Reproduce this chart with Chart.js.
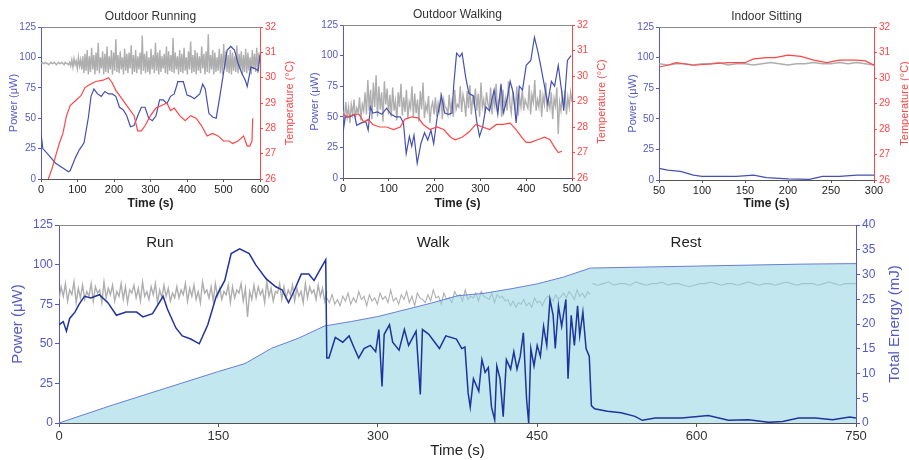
<!DOCTYPE html>
<html>
<head>
<meta charset="utf-8">
<script src="https://cdn.jsdelivr.net/npm/chart.js@4.4.1/dist/chart.umd.min.js"></script>
<style>
  body { margin: 0; background: #fff; width: 909px; height: 460px; overflow: hidden; position: relative; }
  canvas { position: absolute; }
</style>
</head>
<body>
<canvas id="run" width="300" height="215" style="left:0;top:0"></canvas>
<canvas id="walk" width="310" height="215" style="left:300px;top:0"></canvas>
<canvas id="sit" width="299" height="215" style="left:610px;top:0"></canvas>
<canvas id="all" width="909" height="245" style="left:0;top:215px"></canvas>
<script>
// ---- Outdoor Running ----
const runTimes = [0, 5, 20, 40, 60, 75, 80, 95, 105, 112,
  118, 130, 137, 145, 155, 165, 175, 185, 195, 205,
  215, 225, 235, 245, 255, 265, 275, 285, 295, 305,
  315, 325, 335, 345, 355, 365, 375, 390, 400, 410,
  420, 435, 443, 450, 460, 470, 480, 490, 500, 510,
  520, 530, 540, 550, 560, 565, 575, 585, 595, 600]
const runPower = [37.5, 25, 20, 13, 9, 6, 7, 18, 24, 27,
  30, 51, 68, 74, 70, 68, 72, 70, 70, 68,
  59, 57, 52, 43, 44, 52, 59, 59, 50, 48,
  52, 65, 65, 62, 68, 70, 80, 80, 69, 68,
  66, 70, 78, 74, 54, 51, 50, 68, 87, 106,
  109, 106, 95, 87, 81, 76, 92, 91, 89, 102]
const runTempTimes = [20, 30, 40, 50, 60, 70, 80, 95, 110, 120,
  130, 150, 170, 185, 195, 205, 220, 240, 255, 265,
  275, 285, 300, 315, 330, 345, 355, 365, 380, 395,
  410, 425, 440, 455, 470, 485, 500, 515, 525, 540,
  555, 565, 572, 578, 580]
const runTemp = [26, 26.4, 26.9, 27.4, 27.8, 28.5, 28.9, 29.1, 29.3, 29.6,
  29.7, 29.85, 29.9, 30.0, 29.8, 29.5, 29.2, 28.8, 28.5, 27.9,
  27.9, 28.1, 28.5, 28.8, 28.9, 29.0, 28.7, 28.8, 28.5, 28.3,
  28.5, 28.4, 28.1, 27.7, 27.8, 27.7, 27.5, 27.5, 27.4, 27.5,
  27.7, 27.3, 27.3, 27.5, 28.4]
const runGrayStart = 0
const runGrayEnd = 600
const runGray = [95, 96, 95, 95, 96, 95, 95, 94, 95, 96, 95, 95, 96, 95, 94, 95, 96, 95, 95, 96,
  95, 94, 96, 95, 95, 94, 96, 93, 98, 92, 99, 94, 97, 91, 100, 93, 98, 90, 101,
  87, 103, 89, 106, 86, 101, 88, 108, 90, 102, 86, 104, 89, 112, 87, 100, 91, 105, 86, 103,
  88, 109, 87, 101, 90, 106, 86, 104, 89, 115, 88, 102, 87, 105, 90, 100, 86, 107, 89, 103,
  87, 104, 91, 110, 86, 102, 88, 106, 87, 101, 90, 104, 86, 118, 89, 103, 87, 105, 88, 100,
  86, 107, 90, 102, 87, 112, 89, 104, 86, 106, 88, 101, 91, 103, 87, 109, 86, 105, 89, 102,
  88, 116, 87, 104, 90, 101, 86, 106, 88, 103, 87, 108, 89, 100, 86, 105, 90, 113, 87, 102,
  88, 106, 86, 104, 89, 101, 87, 109, 91, 103, 86, 105, 88, 119, 87, 102, 90, 106, 86, 104,
  88, 100, 89, 107, 87, 103, 86, 111, 90, 105, 88, 102, 87, 106, 86, 104, 89, 101, 88, 110,
  87, 103, 90, 105, 86, 102, 88, 107, 87, 104, 89, 100, 86, 106, 90, 103, 88, 108, 87, 104, 95]

// ---- Outdoor Walking ----
const walkTimes = [0, 5, 15, 25, 30, 40, 50, 55, 60, 65,
  75, 85, 95, 105, 115, 125, 132, 138, 145, 150,
  155, 162, 170, 178, 185, 192, 198, 205, 215, 222,
  230, 238, 242, 248, 255, 260, 268, 275, 285, 292,
  298, 305, 312, 320, 330, 338, 345, 350, 358, 365,
  372, 378, 385, 392, 400, 410, 418, 425, 432, 440,
  447, 455, 462, 470, 477, 482, 490, 498]
const walkPower = [37, 50, 50, 52, 43, 45, 46, 39, 58, 53,
  54, 52, 57, 52, 50, 50, 45, 20, 34, 26,
  35, 12, 28, 37, 31, 39, 28, 48, 67, 53,
  52, 53, 77, 102, 99, 102, 82, 69, 67, 46,
  34, 42, 58, 55, 72, 52, 77, 53, 64, 79,
  69, 45, 75, 72, 92, 96, 115, 104, 91, 75,
  61, 79, 75, 92, 72, 55, 96, 100]
const walkTempTimes = [0, 10, 25, 35, 45, 55, 65, 80, 95, 110,
  125, 135, 150, 165, 175, 190, 205, 220, 235, 245,
  260, 275, 290, 305, 320, 335, 350, 365, 378, 390,
  400, 410, 425, 440, 452, 462, 470, 478]
const walkTemp = [28.5, 28.4, 28.5, 28.5, 28.2, 28.3, 28.1, 28.0, 28.0, 27.9,
  28.0, 28.3, 28.4, 28.35, 28.1, 27.9, 28.0, 27.9, 27.6, 27.5,
  27.6, 27.8, 28.1, 28.0, 27.9, 28.1, 28.1, 28.15, 27.9, 27.6,
  27.4, 27.4, 27.5, 27.6, 27.5, 27.2, 27.0, 27.05]
const walkGrayStart = 0
const walkGrayEnd = 500
const walkGray = [55, 48, 62, 50, 58, 45, 60, 52, 64, 49, 57, 53, 66, 47, 60, 55, 70,
  52, 80, 55, 72, 48, 78, 58, 84, 50, 75, 56, 70, 46, 79, 60, 73, 52,
  68, 50, 74, 55, 63, 47, 70, 58, 77, 51, 66, 54, 72, 48, 62, 57, 75, 50, 69, 53,
  64, 46, 71, 56, 78, 49, 60, 55, 67, 45, 58, 62, 52,
  66, 50, 61, 55, 70, 48, 64, 58, 57, 52, 68, 54, 62, 50, 72, 56, 60,
  58, 75, 54, 68, 62, 50, 71, 57, 76, 52, 65, 60, 73, 55, 69, 50, 78, 58, 64, 53,
  70, 61, 56, 74, 52, 67, 59, 77, 54, 63, 68, 50, 72, 57, 65, 55, 79, 60, 53, 70,
  62, 56, 75, 51, 66, 58, 73, 55, 64, 60,
  57, 76, 52, 68, 62, 80, 55, 64, 58, 72, 50, 67, 60, 78, 54, 63, 57, 70, 48, 65,
  59, 74, 36, 62, 55, 68, 60, 72, 52, 66, 58, 70, 62]

// ---- Indoor Sitting ----
const sitTimes = [50, 60, 75, 90, 100, 120, 140, 160, 175, 200, 225, 240, 260, 280, 300]
const sitPower = [9.5, 8, 7, 4, 3, 3, 3, 4, 2, 1, 0.5, 3, 3, 4, 4]
const sitTempTimes = [50, 60, 70, 90, 110, 130, 150, 160, 175, 185, 200, 215, 230, 245, 260, 280, 290, 300]
const sitTemp = [30.43, 30.5, 30.6, 30.5, 30.55, 30.6, 30.6, 30.75, 30.8, 30.8, 30.9, 30.85, 30.7, 30.6, 30.7, 30.7, 30.67, 30.5]
const sitGrayStart = 50
const sitGrayEnd = 300
const sitGray = [95, 94, 95, 95, 94, 95, 95, 96, 94, 95, 95, 94, 95, 96, 95, 94, 95, 95, 96, 95, 95, 96, 95, 96, 95, 94]

// ---- Run / Walk / Rest ----
const phaseLabels = ['Run', 'Walk', 'Rest']
const phaseTimes = [95, 352, 590]
const allTimes = [0, 4, 7, 10, 15, 19, 24, 30, 38, 46,
  54, 63, 73, 79, 88, 98, 102, 110, 116, 124,
  132, 140, 148, 156, 162, 170, 179, 185, 195, 204,
  210, 216, 221, 228, 235, 240, 245, 251, 252, 254,
  260, 267, 273, 278, 282, 287, 293, 298, 301, 304,
  306, 311, 314, 320, 325, 329, 336, 340, 342, 348,
  358, 364, 374, 379, 382, 385, 387, 390, 395, 398,
  401, 404, 407, 410, 412, 415, 418, 421, 425, 428,
  431, 434, 437, 440, 442, 444, 447, 450, 453, 456,
  459, 462, 465, 467, 470, 473, 477, 479, 482, 485,
  488, 490, 493, 496, 499, 501, 504, 516, 529, 542,
  549, 561, 586, 611, 630, 649, 668, 681, 696, 712,
  728, 744, 750]
const allPower = [62, 64, 58, 66, 70, 75, 80, 79, 81, 76,
  68, 70, 70, 67, 69, 80, 72, 60, 55, 53,
  50, 62, 80, 90, 107, 110, 107, 100, 91, 86,
  84, 76, 83, 94, 94, 90, 96, 103, 41, 41,
  54, 51, 55, 47, 41, 47, 49, 45, 59, 23,
  56, 62, 51, 46, 59, 49, 58, 18, 59, 56,
  47, 55, 53, 47, 48, 19, 10, 28, 20, 40,
  32, 35, 10, 2, 36, 28, 4, 40, 34, 45,
  34, 42, 57, 15, 0, 47, 36, 49, 42, 61,
  49, 78, 68, 47, 74, 61, 78, 28, 68, 49,
  74, 55, 70, 47, 42, 11, 9, 7.4, 6.4, 4.2,
  1.7, 3.2, 3.2, 4.7, 1.7, 2.1, 0.4, 1, 3.2, 3.2,
  2.1, 3.8, 3.2]
const energyTimes = [0, 50, 100, 150, 175, 200, 225, 250, 275, 300, 350, 375, 400, 425, 450, 475, 500, 550, 600, 650, 700, 750]
const energyValues = [0, 3.6, 7.0, 10.4, 12.0, 15.1, 17.1, 19.6, 20.5, 21.5, 24.2, 25.7, 26.2, 27.1, 28.1, 29.5, 31.3, 31.5, 31.7, 31.9, 32.1, 32.2]
const allGrayRunStart = 0
const allGrayRunEnd = 252
const allGrayRun = [78, 86, 80, 88, 77, 84, 81, 89, 76, 85, 79, 87, 78, 83, 80, 88, 77, 86, 82, 84,
  76, 89, 79, 85, 81, 87, 77, 83, 80, 88, 78, 86, 76, 84, 82, 87, 79, 85, 77, 89,
  80, 83, 78, 86, 81, 88, 76, 84, 79, 87, 80, 85, 77, 82, 79, 86, 79, 84, 81, 88,
  77, 85, 80, 87, 78, 83, 76, 89, 82, 84, 79, 86, 77, 88, 80, 85, 78, 83, 81, 87,
  76, 86, 79, 84, 82, 88, 77, 85, 67, 83, 78, 87, 79, 86, 81, 84, 76, 89, 80, 85,
  77, 83, 82, 88, 78, 86, 79, 84, 81, 87, 77, 85, 80, 83, 76, 88, 79, 86, 82, 84,
  78, 87, 80, 85, 77, 83]
const allGrayWalkStart = 252
const allGrayWalkEnd = 500
const allGrayWalk = [79, 76, 81, 75, 78, 74, 80, 77, 82, 75, 79, 76, 83, 78, 80, 74, 81, 77, 79, 75,
  82, 78, 80, 76, 84, 77, 79, 75, 81, 78, 83, 76, 80, 74, 82, 79, 78, 76, 81, 77,
  84, 79, 80, 75, 82, 78, 79, 76, 83, 80, 81, 77, 84, 78, 80, 79, 82, 77, 83, 80,
  79, 78, 82, 76, 81, 79, 80, 77, 78, 74, 77, 73, 76, 75, 78, 74, 76, 73, 79, 76,
  77, 74, 78, 80, 79, 77, 81, 78, 80, 82, 79, 83, 81, 78, 84, 80, 82, 79, 83, 81]
const allGrayRestStart = 502
const allGrayRestEnd = 750
const allGrayRest = [88, 87, 88, 89, 87, 88, 88, 87, 89, 88, 87, 88, 88, 89, 87, 88, 88, 87, 86, 87,
  88, 88, 89, 88, 87, 88, 88, 87, 88, 89, 88, 87, 88, 88, 87, 88, 89, 88, 87, 88,
  88, 88, 87, 88, 89, 88, 87, 88, 88, 88]

const fontFamily = '"Liberation Sans", Arial, sans-serif'
const blueTop = 'rgb(70, 80, 178)'
const redTop = 'rgb(255, 70, 70)'
const axisBlue = 'rgb(85, 90, 195)'
const grayLine = 'rgba(165, 165, 165, 0.9)'

function toPoints(times, values) {
  return values.map((v, i) => ({ x: times[i], y: v }))
}

// noisy traces are sampled evenly between a start and end time
function evenPoints(start, end, values) {
  const step = (end - start) / (values.length - 1)
  return values.map((v, i) => ({ x: start + i * step, y: v }))
}

// top frame line, panel title, right-axis title (reading upwards) and phase labels
const decor = {
  id: 'decor',
  afterDraw(chart, args, o) {
    const { ctx, chartArea: a } = chart
    ctx.save()
    ctx.strokeStyle = '#8a8a8a'
    ctx.lineWidth = 1
    ctx.beginPath()
    ctx.moveTo(a.left, a.top + 0.5)
    ctx.lineTo(a.right, a.top + 0.5)
    ctx.stroke()
    ctx.textAlign = 'center'
    ctx.textBaseline = 'middle'
    if (o.title) {
      ctx.fillStyle = '#333'
      ctx.font = `12px ${fontFamily}`
      ctx.fillText(o.title, (a.left + a.right) / 2, o.titleY)
    }
    if (o.rightTitle) {
      ctx.save()
      ctx.translate(a.right + o.rightOffset, (a.top + a.bottom) / 2)
      ctx.rotate(-Math.PI / 2)
      ctx.fillStyle = o.rightColor
      ctx.font = o.rightFont
      ctx.fillText(o.rightTitle, 0, 0)
      ctx.restore()
    }
    if (o.phases) {
      ctx.fillStyle = '#222'
      ctx.font = `15px ${fontFamily}`
      o.phases.forEach((p, i) => {
        ctx.fillText(p, chart.scales.x.getPixelForValue(o.phaseTimes[i]), chart.scales.y.getPixelForValue(o.phaseLevel))
      })
    }
    ctx.restore()
  }
}

function topPanel(id, p) {
  return new Chart(document.getElementById(id), {
    type: 'line',
    data: {
      datasets: [
        { data: p.gray, borderColor: grayLine, borderWidth: 1.4, order: 3 },
        { data: p.power, borderColor: blueTop, borderWidth: 1.2, order: 2 },
        { data: p.temp, borderColor: redTop, borderWidth: 1.2, yAxisID: 'y2', order: 1 }
      ]
    },
    options: {
      responsive: false,
      animation: false,
      events: [],
      layout: { padding: { top: p.top, left: 0, right: 0, bottom: 0 } },
      elements: { point: { radius: 0 }, line: { tension: 0 } },
      plugins: {
        legend: { display: false },
        tooltip: { enabled: false },
        decor: {
          title: p.title, titleY: p.titleY,
          rightTitle: 'Temperature (°C)', rightOffset: p.rightOffset,
          rightColor: redTop, rightFont: `11px ${fontFamily}`
        }
      },
      scales: {
        x: {
          type: 'linear', min: p.xMin, max: p.xMax,
          ticks: { stepSize: p.xStep, color: '#222', font: { size: 11, family: fontFamily }, padding: 1, maxRotation: 0 },
          grid: { drawOnChartArea: false, tickLength: 3, color: '#555' },
          border: { color: '#555' },
          title: { display: true, text: 'Time (s)', color: '#222', font: { size: 12, weight: 'bold', family: fontFamily }, padding: { top: 0, bottom: 4 } },
          afterFit: s => { s.height = p.xHeight }
        },
        y: {
          min: 0, max: 125,
          ticks: { stepSize: 25, color: axisBlue, font: { size: 10, family: fontFamily }, padding: 2 },
          grid: { drawOnChartArea: false, tickLength: 3, color: axisBlue },
          border: { color: axisBlue },
          title: { display: true, text: 'Power (μW)', color: axisBlue, font: { size: 11, family: fontFamily }, padding: { top: p.leftPad, bottom: 0 } },
          afterFit: s => { s.width = p.leftWidth }
        },
        y2: {
          position: 'right', min: 26, max: 32,
          ticks: { stepSize: 1, color: redTop, font: { size: 10, family: fontFamily }, padding: 2 },
          grid: { drawOnChartArea: false, tickLength: 3, color: redTop },
          border: { color: redTop },
          afterFit: s => { s.width = p.rightWidth }
        }
      }
    },
    plugins: [decor]
  })
}

topPanel('run', {
  title: 'Outdoor Running', titleY: 17, top: 27, xHeight: 36, leftWidth: 41, rightWidth: 40,
  leftPad: 7, rightOffset: 30, xMin: 0, xMax: 600, xStep: 100,
  gray: evenPoints(runGrayStart, runGrayEnd, runGray),
  power: toPoints(runTimes, runPower),
  temp: toPoints(runTempTimes, runTemp)
})

topPanel('walk', {
  title: 'Outdoor Walking', titleY: 15, top: 25, xHeight: 37, leftWidth: 43, rightWidth: 38,
  leftPad: 8, rightOffset: 30, xMin: 0, xMax: 500, xStep: 100,
  gray: evenPoints(walkGrayStart, walkGrayEnd, walkGray),
  power: toPoints(walkTimes, walkPower),
  temp: toPoints(walkTempTimes, walkTemp)
})

topPanel('sit', {
  title: 'Indoor Sitting', titleY: 17, top: 27, xHeight: 35, leftWidth: 49, rightWidth: 35,
  leftPad: 16, rightOffset: 31, xMin: 50, xMax: 300, xStep: 50,
  gray: evenPoints(sitGrayStart, sitGrayEnd, sitGray),
  power: toPoints(sitTimes, sitPower),
  temp: toPoints(sitTempTimes, sitTemp)
})

// bottom panel: the three phases in one run, with accumulated energy
new Chart(document.getElementById('all'), {
  type: 'line',
  data: {
    datasets: [
      { data: evenPoints(allGrayRunStart, allGrayRunEnd, allGrayRun), borderColor: grayLine, borderWidth: 1.4, order: 4 },
      { data: evenPoints(allGrayWalkStart, allGrayWalkEnd, allGrayWalk), borderColor: grayLine, borderWidth: 1.1, order: 4 },
      { data: evenPoints(allGrayRestStart, allGrayRestEnd, allGrayRest), borderColor: grayLine, borderWidth: 1.1, order: 4 },
      {
        data: toPoints(energyTimes, energyValues), yAxisID: 'y2', order: 2,
        borderColor: 'rgb(105, 125, 215)', borderWidth: 1,
        fill: 'origin', backgroundColor: 'rgba(150, 214, 226, 0.58)'
      },
      { data: toPoints(allTimes, allPower), borderColor: 'rgb(32, 52, 155)', borderWidth: 1.5, order: 1 }
    ]
  },
  options: {
    responsive: false,
    animation: false,
    events: [],
    layout: { padding: { top: 10, left: 0, right: 0, bottom: 0 } },
    elements: { point: { radius: 0 }, line: { tension: 0 } },
    plugins: {
      legend: { display: false },
      tooltip: { enabled: false },
      decor: {
        rightTitle: 'Total Energy (mJ)', rightOffset: 39,
        rightColor: axisBlue, rightFont: `15px ${fontFamily}`,
        phases: phaseLabels, phaseTimes: phaseTimes, phaseLevel: 114
      }
    },
    scales: {
      x: {
        type: 'linear', min: 0, max: 750,
        ticks: { stepSize: 150, color: '#333', font: { size: 13, family: fontFamily }, padding: 2, maxRotation: 0 },
        grid: { drawOnChartArea: false, tickLength: 4, color: '#555' },
        border: { color: '#555' },
        title: { display: true, text: 'Time (s)', color: '#222', font: { size: 15, family: fontFamily }, padding: { top: 0, bottom: 0 } },
        afterFit: s => { s.height = 37 }
      },
      y: {
        min: 0, max: 125,
        ticks: { stepSize: 25, color: axisBlue, font: { size: 12, family: fontFamily }, padding: 2 },
        grid: { drawOnChartArea: false, tickLength: 4, color: axisBlue },
        border: { color: axisBlue },
        title: { display: true, text: 'Power (μW)', color: axisBlue, font: { size: 15, family: fontFamily }, padding: { top: 9, bottom: 0 } },
        afterFit: s => { s.width = 59 }
      },
      y2: {
        position: 'right', min: 0, max: 40,
        ticks: { stepSize: 5, color: axisBlue, font: { size: 12, family: fontFamily }, padding: 2 },
        grid: { drawOnChartArea: false, tickLength: 4, color: axisBlue },
        border: { color: axisBlue },
        afterFit: s => { s.width = 53 }
      }
    }
  },
  plugins: [decor]
})
</script>
</body>
</html>
